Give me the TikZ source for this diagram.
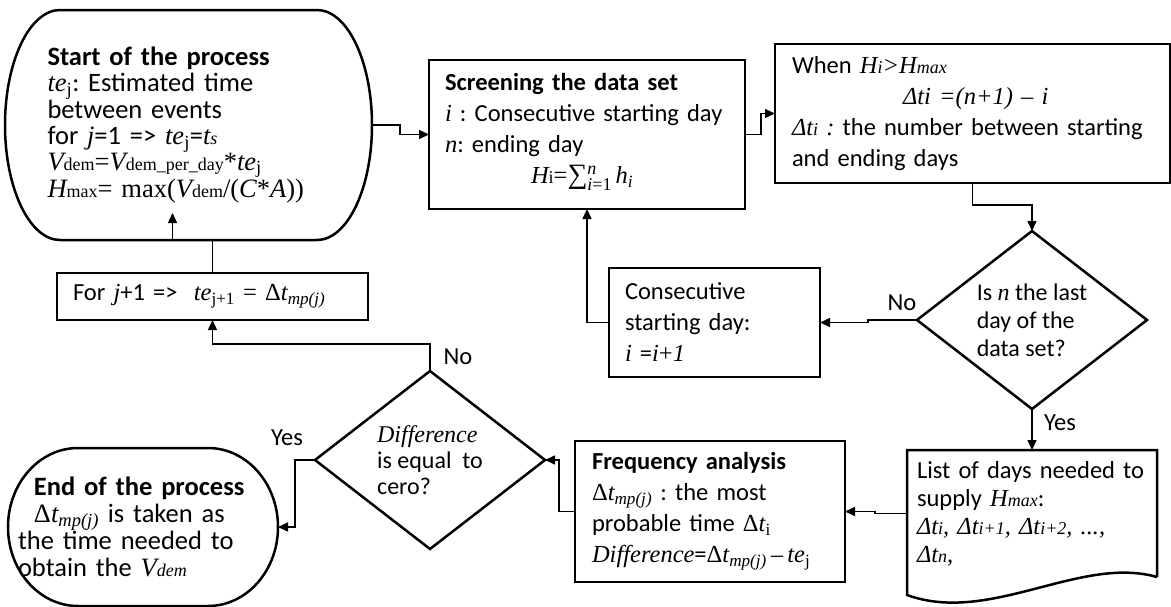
\documentclass[tikz,border=0pt]{standalone}
\usepackage{fontspec}
\setmainfont{Carlito}
\newfontfamily\tnr{Liberation Serif}
\usetikzlibrary{shapes.geometric,arrows.meta}
\frenchspacing
\hyphenpenalty=10000
\exhyphenpenalty=10000
\newcommand\iv[1]{{\tnr\itshape #1}}
\newcommand\rv[1]{{\tnr #1}}
\newcommand\lo[1]{{\fontsize{18}{18}\selectfont #1}}
\newcommand\sumto{\rv{\fontsize{28}{28}\selectfont ∑}{\fontsize{18}{15}\selectfont
  \begin{tabular}{@{}l@{}}\iv{n}\\\iv{i}\rv{=1}\end{tabular}}\,\iv{h}\textsubscript{\iv{i}}}
\newcommand\drawterm[3]{\draw[line width=2.5pt] ([xshift=#2]#1.north west) -- ([xshift=-#2]#1.north east)
  arc[start angle=90,end angle=-90,x radius=#2,y radius=#3] -- ([xshift=#2]#1.south west)
  arc[start angle=270,end angle=90,x radius=#2,y radius=#3] -- cycle;}
\tikzset{
  box/.style={draw,line width=2.5pt,rectangle,inner sep=0pt,outer sep=0pt,align=left},
  term/.style={rectangle,inner sep=0pt,outer sep=0pt,align=left},
  decision/.style={draw,line width=2.5pt,diamond,aspect=1.3,inner sep=0pt,outer sep=0pt,
    minimum width=230,minimum height=178,align=left},
  arr/.style={line width=1.5pt,-{Triangle[length=10pt,width=9pt]}},
  lbl/.style={inner sep=0pt}
}
\begin{document}
\begin{tikzpicture}[x=1pt,y=1pt,font=\fontsize{24.5}{31}\selectfont]
\useasboundingbox (0,0) rectangle (1171,-606);

\node[term,minimum width=367,minimum height=230,text width=282,
  font=\fontsize{26.5}{25.7}\selectfont] (start) at (188.5,-125)
  {\textbf{Start of the process}\\
   \iv{te}\textsubscript{\rv{j}}: Estimated time\\
   between events\\
   for \iv{j}=1 => \iv{te}\textsubscript{\rv{j}}=\iv{t\lo{s}}\\
   \iv{V}\rv{\lo{dem}=}\iv{V}\rv{\lo{dem\_per\_day}*}\iv{te}\textsubscript{\rv{j}}\\
   \iv{H}\rv{\lo{max}= max(}\iv{V}\rv{\lo{dem}/(}\iv{C}\rv{*}\iv{A}\rv{))}};
\node[box,minimum width=316,minimum height=149,text width=284] (screen) at (587,-134.5)
  {\textbf{Screening the data set}\\
   \iv{i} : Consecutive starting day\\
   \iv{n}: ending day\\
   \hspace*{86pt}\iv{H}\rv{\lo{i}=}\sumto};
\node[box,minimum width=395,minimum height=139,text width=361] (when) at (972.5,-113.5)
  {When \iv{H\lo{i}>H\lo{max}}\\
   \hspace*{111pt}\iv{Δti =(n+1) – i}\\
   \iv{Δt\lo{i} :} the number between starting\\
   and ending days};
\node[decision,font=\fontsize{24}{28}\selectfont] (isLast) at (1032,-320)
  {Is \iv{n} the last\\ day of the\\ data set?};
\node[box,minimum width=211,minimum height=109,text width=179] (consec) at (714.5,-322.5)
  {Consecutive\\ starting day:\\ \iv{i} =\iv{i}\rv{+}\iv{1}};
\node[term,minimum width=250,minimum height=127,text width=230,
  font=\fontsize{24.5}{28}\selectfont] (days) at (1032,-513.5)
  {List of days needed to\\
   supply \iv{H\lo{max}}:\\
   \iv{Δt\lo{i}, Δt\lo{i+1}, Δt\lo{i+2}, ...,}\\
   \iv{Δt\lo{n},}};
\node[box,minimum width=270,minimum height=141,text width=236] (freq) at (710,-511.5)
  {\textbf{Frequency analysis}\\
   \rv{Δ}\iv{t}\textsubscript{\iv{mp(j)}} : the most\\
   probable time \rv{Δ}\iv{t}\textsubscript{\rv{i}}\\
   \iv{Difference}=\rv{Δ}\iv{t}\textsubscript{\iv{mp(j)}}\,\rv{–}\,\iv{te}\textsubscript{\rv{j}}};
\node[decision,font=\fontsize{24}{26}\selectfont] (isZero) at (430,-460)
  {\iv{Difference}\\ is equal\ \ to\\ cero?};
\node[box,minimum width=311,minimum height=47,text width=279] (nextJ) at (212.5,-296.5)
  {For \iv{j}+1 =>\ \ \iv{te}\textsubscript{\rv{j+1}} \rv{=} \rv{Δ}\iv{t}\textsubscript{\iv{mp(j)}}};
\node[term,minimum width=270,minimum height=158,text width=250,
  font=\fontsize{26.5}{27}\selectfont] (finish) at (143,-527)
  {\hspace*{16pt}\textbf{End of the process}\\
   \hspace*{16pt}\rv{Δ}\iv{t}\textsubscript{\iv{mp(j)}} is taken as\\
   the time needed to\\
   obtain the \iv{V\lo{dem}}};

\drawterm{start}{55}{115}
\drawterm{finish}{70}{79}
\draw[line width=2.5pt] (days.south east) -- (days.north east) -- (days.north west)
  -- ([yshift=-18]days.south west)
  .. controls (990,-625) and (1080,-555) .. (days.south east);

\node[lbl] (noLast) at (902,-303) {No};
\node[lbl] (yesLast) at (1060,-423) {Yes};
\node[lbl] (noZero) at (458,-357) {No};
\node[lbl] (yesZero) at (287,-438) {Yes};

\draw[arr] (start.east) -- ++(28,0) |- (screen.west);
\draw[arr] (screen.east) -- ++(16,0) |- (when.west);
\draw[arr] (when.south) -- ++(0,-22) -| (isLast.north);
\draw[arr] (isLast.west) -- ++(-49,0) |- (consec.east);
\draw[arr] (consec.west) -| (screen.south);
\draw[arr] (isLast.south) -- (days.north);
\draw[arr] (days.west) -- ++(-32,0) |- (freq.east);
\draw[arr] (freq.west) -- ++(-16,0) |- (isZero.east);
\draw[arr] (isZero.north) -- ++(0,27) -| (nextJ.south);
\draw[arr] (isZero.west) -- ++(-20,0) |- (finish.east);
\draw[arr] (nextJ.north) -- (nextJ.north |- start.south) -- ++(-40,0) -- ++(0,27);
\end{tikzpicture}
\end{document}
